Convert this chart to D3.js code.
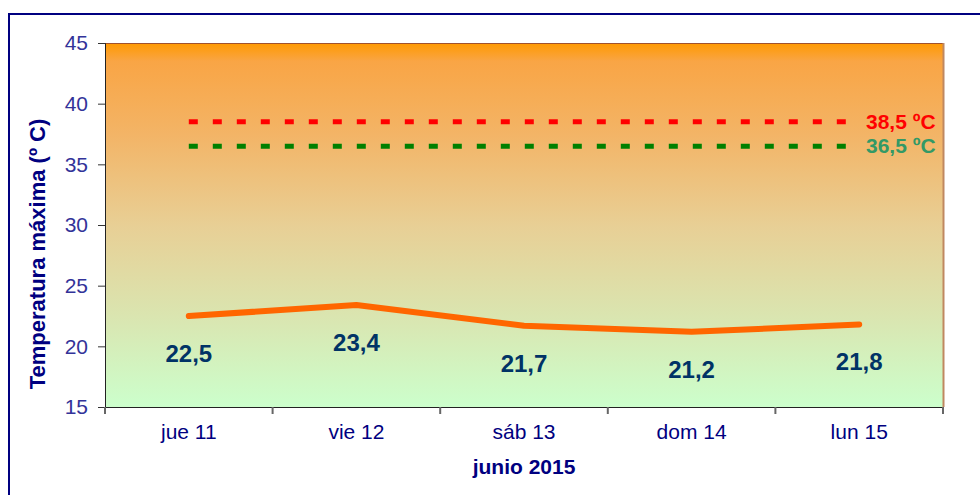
<!doctype html>
<html>
  <head>
    <meta charset="utf-8">
    <title>Temperatura máxima junio 2015</title>
    <script src="https://cdnjs.cloudflare.com/ajax/libs/d3/7.8.5/d3.min.js"></script>
    <style>
      body { margin: 0; background: #fff; }
      svg { display: block; font-family: Arial, "Liberation Sans", sans-serif; }
    </style>
  </head>
  <body>
    <div id="chart"></div>
    <script>
      // datos
      const dias = ['jue 11', 'vie 12', 'sáb 13', 'dom 14', 'lun 15'];
      const tmax = [22.5, 23.4, 21.7, 21.2, 21.8];
      const etiquetas = ['22,5', '23,4', '21,7', '21,2', '21,8'];
      const umbrales = [38.5, 36.5];
      const umbralTxt = ['38,5 ºC', '36,5 ºC'];
      const yTicks = [15, 20, 25, 30, 35, 40, 45];

      const W = 980, H = 495;
      const pLeft = 105, pRight = 943, pTop = 43, pBottom = 407;

      const svg = d3.select('#chart').append('svg')
        .attr('width', W)
        .attr('height', H);

      // marco exterior
      svg.append('rect')
        .attr('x', 9).attr('y', 14)
        .attr('width', 1000).attr('height', 600)
        .attr('fill', 'none')
        .attr('stroke', '#000080')
        .attr('stroke-width', 2);

      const grad = svg.append('defs').append('linearGradient')
        .attr('id', 'fondo')
        .attr('x1', 0).attr('y1', 0).attr('x2', 0).attr('y2', 1);
      [['0%', '#FF9900'], ['5%', '#F9A545'], ['25%', '#F3B466'],
       ['50%', '#E8CF95'], ['75%', '#DAE5B0'], ['100%', '#CCFFCC']]
        .forEach(s => grad.append('stop').attr('offset', s[0]).attr('stop-color', s[1]));

      const x = d3.scaleBand().domain(dias).range([pLeft, pRight]);
      const y = d3.scaleLinear().domain([15, 45]).range([pBottom, pTop]);
      const cx = d => x(d) + x.bandwidth() / 2;

      svg.append('rect')
        .attr('x', pLeft).attr('y', pTop)
        .attr('width', pRight - pLeft).attr('height', pBottom - pTop)
        .attr('fill', 'url(#fondo)');

      // bordes del área de trazado
      svg.append('line')
        .attr('x1', pLeft).attr('x2', pRight).attr('y1', pTop + 0.5).attr('y2', pTop + 0.5)
        .attr('stroke', '#A0522D').attr('stroke-width', 1);
      svg.append('line')
        .attr('x1', pRight + 0.5).attr('x2', pRight + 0.5).attr('y1', pTop).attr('y2', pBottom)
        .attr('stroke', '#C08860').attr('stroke-width', 2);

      // eje Y
      const yAxis = svg.append('g')
        .attr('transform', `translate(${pLeft},0)`)
        .call(d3.axisLeft(y).tickValues(yTicks).tickSize(7).tickPadding(10));
      yAxis.select('.domain').attr('stroke', '#222');
      yAxis.selectAll('.tick line').attr('stroke', '#333');
      yAxis.selectAll('text')
        .attr('fill', '#333399')
        .style('font-size', '21px');

      // eje X
      const xAxis = svg.append('g')
        .attr('transform', `translate(0,${pBottom})`)
        .call(d3.axisBottom(x).tickSize(0).tickPadding(17));
      xAxis.select('.domain').attr('stroke', '#222').attr('d', `M${pLeft},0.5H${pRight}`);
      xAxis.selectAll('text')
        .attr('fill', '#000080')
        .style('font-size', '21px');

      // marcas entre categorías
      svg.append('g').selectAll('line')
        .data(dias.concat(['fin']))
        .join('line')
        .attr('x1', (d, i) => pLeft + i * x.bandwidth())
        .attr('x2', (d, i) => pLeft + i * x.bandwidth())
        .attr('y1', pBottom)
        .attr('y2', pBottom + 7)
        .attr('stroke', '#666')
        .attr('stroke-width', 2);

      // umbrales
      const colUmbral = ['#FF0000', '#008000'];
      const colTxt = ['#FF0000', '#339966'];
      svg.append('g').selectAll('line')
        .data(umbrales)
        .join('line')
        .attr('x1', cx(dias[0]))
        .attr('x2', cx(dias[dias.length - 1]))
        .attr('y1', d => y(d))
        .attr('y2', d => y(d))
        .attr('stroke', (d, i) => colUmbral[i])
        .attr('stroke-width', 5)
        .attr('stroke-dasharray', '9,15');

      svg.append('g').selectAll('text')
        .data(umbrales)
        .join('text')
        .attr('x', 866)
        .attr('y', d => y(d) + 7)
        .attr('fill', (d, i) => colTxt[i])
        .style('font-size', '21px')
        .style('font-weight', 'bold')
        .text((d, i) => umbralTxt[i]);

      // línea de temperatura
      const linea = d3.line()
        .x((d, i) => cx(dias[i]))
        .y(d => y(d));

      svg.append('path')
        .datum(tmax)
        .attr('d', linea)
        .attr('fill', 'none')
        .attr('stroke', '#FF6600')
        .attr('stroke-width', 6)
        .attr('stroke-linecap', 'round')
        .attr('stroke-linejoin', 'round');

      svg.append('g').selectAll('text')
        .data(tmax)
        .join('text')
        .attr('x', (d, i) => cx(dias[i]))
        .attr('y', d => y(d) + 46)
        .attr('text-anchor', 'middle')
        .attr('fill', '#003366')
        .style('font-size', '24px')
        .style('font-weight', 'bold')
        .text((d, i) => etiquetas[i]);

      // títulos
      svg.append('text')
        .attr('x', (pLeft + pRight) / 2)
        .attr('y', 474)
        .attr('text-anchor', 'middle')
        .attr('fill', '#000080')
        .style('font-size', '21px')
        .style('font-weight', 'bold')
        .text('junio 2015');

      svg.append('text')
        .attr('transform', 'translate(45,254) rotate(-90)')
        .attr('text-anchor', 'middle')
        .attr('fill', '#000080')
        .style('font-size', '22px')
        .style('font-weight', 'bold')
        .text('Temperatura máxima (º C)');
    </script>
  </body>
</html>
